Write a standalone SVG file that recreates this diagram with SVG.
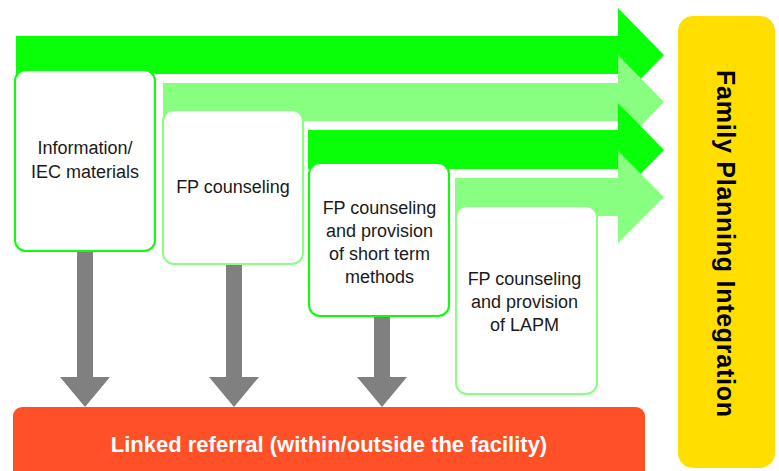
<svg xmlns="http://www.w3.org/2000/svg" width="779" height="471" viewBox="0 0 779 471">
<style>
.dark{fill:#08ff08}
.light{fill:#88ff80}
.box{fill:#ffffff;stroke-width:2}
.bd{stroke:#08ff08}
.bl{stroke:#88ff80}
.t{font-family:"Liberation Sans",Arial,sans-serif;font-size:18px;fill:#1a1a1a;text-anchor:middle}
.gray{fill:#808080}
</style>
<rect width="779" height="471" fill="#ffffff"/>
<g id="flows">
<polygon class="dark" points="16,36 618,36 618,8 664,55 618,102 618,74 16,74"/>
<polygon class="light" points="163,83 618,83 618,55 664,102 618,149 618,121 163,121"/>
<polygon class="dark" points="308,130 618,130 618,103 664,150 618,197 618,169 308,169"/>
<polygon class="light" points="455,178 618,178 618,151 664,197 618,243 618,216 455,216"/>
</g>
<g id="connectors">
<polygon class="gray" points="77,251 93,251 93,377 110,377 85,407 60,377 77,377"/>
<polygon class="gray" points="226,264 242,264 242,377 259,377 234,407 209,377 226,377"/>
<polygon class="gray" points="374,316 390,316 390,377 407,377 382,407 357,377 374,377"/>
</g>
<g id="node-info">
<rect class="box bd" x="15" y="70" width="140" height="181" rx="11"/>
<text class="t" x="85" y="154">Information/</text>
<text class="t" x="85" y="178">IEC materials</text>
</g>
<g id="node-counseling">
<rect class="box bl" x="163" y="110" width="140" height="154" rx="11"/>
<text class="t" x="233" y="193">FP counseling</text>
</g>
<g id="node-short">
<rect class="box bd" x="309" y="163" width="140" height="153" rx="11"/>
<text class="t" x="379.5" y="214">FP counseling</text>
<text class="t" x="379.5" y="237">and provision</text>
<text class="t" x="379.5" y="260">of short term</text>
<text class="t" x="379.5" y="283">methods</text>
</g>
<g id="node-lapm">
<rect class="box bl" x="456" y="206" width="141" height="188" rx="11"/>
<text class="t" x="524.5" y="285">FP counseling</text>
<text class="t" x="524.5" y="308">and provision</text>
<text class="t" x="524.5" y="331">of LAPM</text>
</g>
<g id="node-referral">
<rect x="13" y="407" width="632" height="75" rx="9" fill="#ff5028"/>
<text x="329" y="452" font-family="Liberation Sans,Arial,sans-serif" font-weight="bold" font-size="22" fill="#ffffff" text-anchor="middle">Linked referral (within/outside the facility)</text>
</g>
<g id="node-integration">
<rect x="678" y="16" width="97" height="452" rx="15" fill="#ffde00"/>
<text transform="translate(717,243.5) rotate(90)" font-family="Liberation Sans,Arial,sans-serif" font-weight="bold" font-size="25" fill="#000000" text-anchor="middle" textLength="347" lengthAdjust="spacing">Family Planning Integration</text>
</g>
</svg>
